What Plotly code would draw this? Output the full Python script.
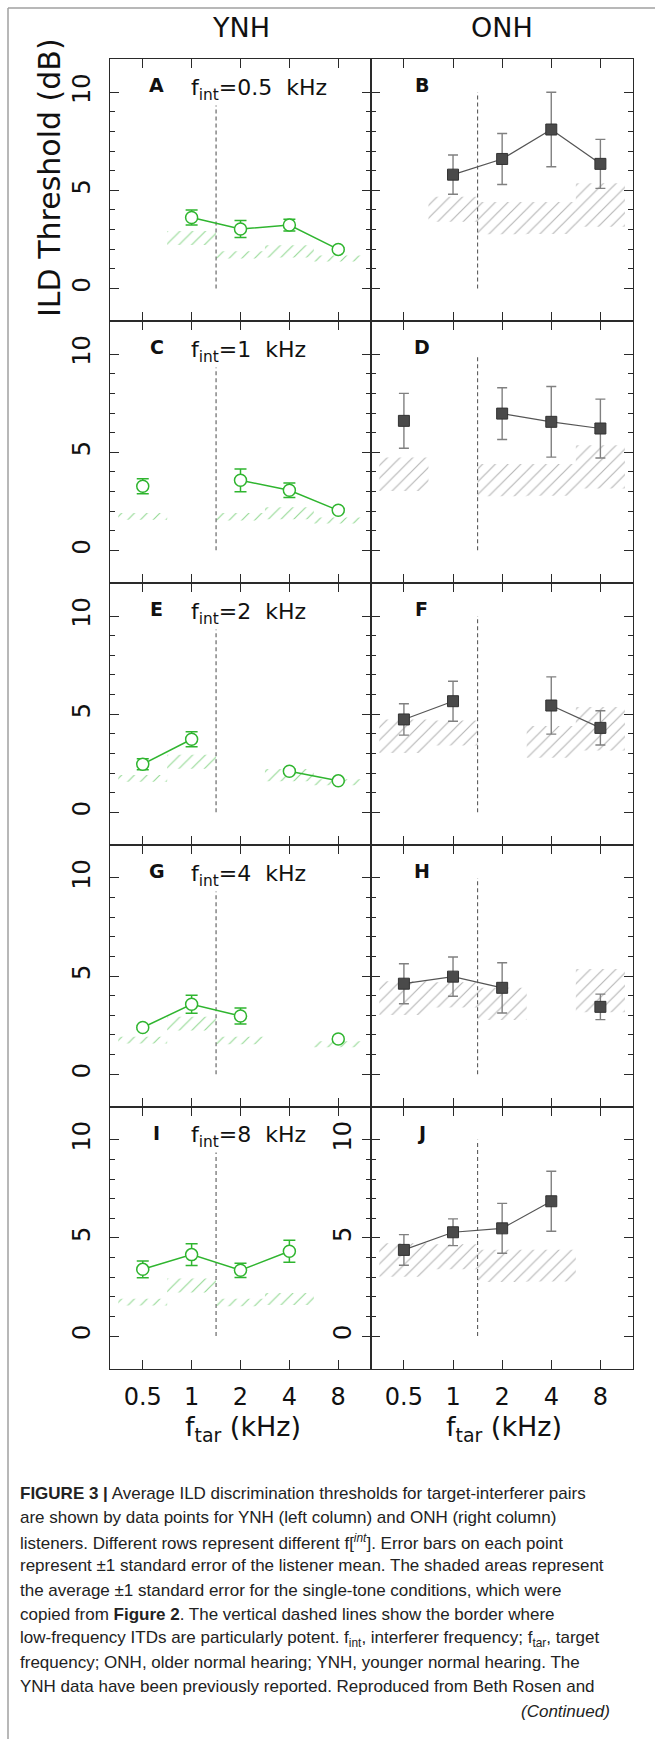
import math
import plotly.graph_objects as go

# ---------------- data ----------------
freqs = [0.5, 1, 2, 4, 8]                 # target frequency (kHz)
freq_labels = ["0.5", "1", "2", "4", "8"]
f_int_values = [0.5, 1, 2, 4, 8]          # interferer frequency per row (kHz)
f_int_labels = ["0.5", "1", "2", "4", "8"]
letters_ynh = ["A", "C", "E", "G", "I"]
letters_onh = ["B", "D", "F", "H", "J"]
column_titles = ["YNH", "ONH"]

# YNH mean thresholds (dB); None where target == interferer
ynh_mean = [
    [None, 3.62, 3.03, 3.23, 1.99],
    [3.27, None, 3.57, 3.06, 2.04],
    [2.45, 3.72, None, 2.09, 1.60],
    [2.38, 3.56, 2.96, None, 1.79],
    [3.40, 4.15, 3.35, 4.32, None],
]
ynh_se = [
    [None, 0.38, 0.43, 0.30, 0.08],
    [0.38, None, 0.58, 0.37, 0.08],
    [0.28, 0.38, None, 0.10, 0.08],
    [0.10, 0.46, 0.41, None, 0.10],
    [0.43, 0.55, 0.36, 0.56, None],
]
# ONH mean thresholds (dB)
onh_mean = [
    [None, 5.80, 6.60, 8.10, 6.35],
    [6.60, None, 6.97, 6.55, 6.21],
    [4.73, 5.66, None, 5.44, 4.30],
    [4.61, 4.97, 4.40, None, 3.43],
    [4.39, 5.29, 5.49, 6.87, None],
]
onh_se = [
    [None, 1.00, 1.30, 1.90, 1.25],
    [1.40, None, 1.32, 1.80, 1.50],
    [0.80, 1.02, None, 1.46, 0.87],
    [1.02, 1.00, 1.28, None, 0.65],
    [0.78, 0.68, 1.27, 1.53, None],
]
# single-tone conditions: mean +/- 1 SE band (dB)
ynh_single_lo = [1.56, 2.22, 1.52, 1.58, 1.37]
ynh_single_hi = [1.90, 2.93, 1.90, 2.20, 1.68]
onh_single_lo = [3.02, 3.40, 2.76, 2.78, 3.15]
onh_single_hi = [4.73, 4.68, 4.40, 4.40, 5.36]

itd_border_khz = math.sqrt(1 * 2)   # border between 1 and 2 kHz
border_y = [0, 10]

caption_lines = [
    "<b>FIGURE 3 |</b> Average ILD discrimination thresholds for target-interferer pairs",
    "are shown by data points for YNH (left column) and ONH (right column)",
    "listeners. Different rows represent different f[<sup><i>int</i></sup>]. Error bars on each point",
    "represent \u00b11 standard error of the listener mean. The shaded areas represent",
    "the average \u00b11 standard error for the single-tone conditions, which were",
    "copied from <b>Figure 2</b>. The vertical dashed lines show the border where",
    "low-frequency ITDs are particularly potent. f<sub>int</sub>, interferer frequency; f<sub>tar</sub>, target",
    "frequency; ONH, older normal hearing; YNH, younger normal hearing. The",
    "YNH data have been previously reported. Reproduced from Beth Rosen and",
]
caption_continued = "<i>(Continued)</i>"

# ---------------- styling ----------------
W, H = 655, 1739
GREEN = "#2fb52f"
SQ_COLOR = "#4a4a4a"
ONH_ERR = "#808080"
ONH_HATCH = "#6e6e6e"
AXC = "#2a2a2a"
PLOT_FONT = "DejaVu Sans"
CAP_FONT = "Liberation Sans"

col_px = [(110.0, 371.0), (371.0, 633.3)]
row_top = 59.3
row_h = 261.9


def xp(px):
    return px / W


def yp(py):
    return 1 - py / H


fig = go.Figure()
half_oct = math.sqrt(2)
lg2 = math.log10(2)
x_range = [math.log10(freqs[0]) - 0.67 * lg2, math.log10(freqs[-1]) + 0.67 * lg2]

annotations = []
for r in range(5):
    for c in range(2):
        idx = r * 2 + c + 1
        xs = "x" if idx == 1 else f"x{idx}"
        ys = "y" if idx == 1 else f"y{idx}"
        top = row_top + r * row_h
        bot = top + row_h
        x0, x1 = col_px[c]

        fig.layout[("xaxis" if idx == 1 else f"xaxis{idx}")] = dict(
            domain=[xp(x0), xp(x1)], anchor=ys, type="log", range=x_range,
            tickmode="array", tickvals=freqs, ticktext=freq_labels,
            ticks="inside", ticklen=9, tickwidth=1.2, tickcolor=AXC,
            showline=True, linewidth=1.1, linecolor=AXC, mirror="allticks",
            showgrid=False, zeroline=False, showticklabels=(r == 4),
            tickfont=dict(family=PLOT_FONT, size=24, color="#111"),
            ticklabelstandoff=6,
        )
        fig.layout[("yaxis" if idx == 1 else f"yaxis{idx}")] = dict(
            domain=[yp(bot), yp(top)], anchor=xs, range=[-1.67, 11.68],
            tickmode="array", tickvals=[0, 5, 10], ticktext=["0", "5", "10"],
            ticks="inside", ticklen=9, tickwidth=1.2, tickcolor=AXC,
            minor=dict(tickmode="array", tickvals=[1, 2, 3, 4, 6, 7, 8, 9],
                       ticks="inside", ticklen=5, tickwidth=1.2, tickcolor=AXC),
            showline=True, linewidth=1.1, linecolor=AXC, mirror="allticks",
            showgrid=False, zeroline=False,
            showticklabels=(c == 0 or (r == 4 and c == 1)),
            tickangle=-90, tickfont=dict(family=PLOT_FONT, size=24, color="#111"),
            ticklabelstandoff=9,
        )

        fint = f_int_values[r]
        if c == 0:
            lo, hi, hcol = ynh_single_lo, ynh_single_hi, GREEN
            mean, se = ynh_mean[r], ynh_se[r]
        else:
            lo, hi, hcol = onh_single_lo, onh_single_hi, ONH_HATCH
            mean, se = onh_mean[r], onh_se[r]

        # hatched single-tone bands
        for i, f in enumerate(freqs):
            if f == fint:
                continue
            fig.add_trace(go.Scatter(
                x=[f / half_oct, f * half_oct, f * half_oct, f / half_oct, f / half_oct],
                y=[lo[i], lo[i], hi[i], hi[i], lo[i]],
                mode="lines", line=dict(width=0, color="rgba(0,0,0,0)"),
                fill="toself", fillcolor="rgba(0,0,0,0)",
                fillpattern=dict(shape="/", fgcolor=hcol, bgcolor="rgba(0,0,0,0)",
                                 size=9, solidity=0.13),
                xaxis=xs, yaxis=ys, hoverinfo="skip", showlegend=False,
            ))

        # dashed border line
        fig.add_trace(go.Scatter(
            x=[itd_border_khz, itd_border_khz], y=border_y, mode="lines",
            line=dict(color="#5a5a5a", width=1.1, dash="4px,3px"),
            xaxis=xs, yaxis=ys, hoverinfo="skip", showlegend=False,
        ))

        err = [e if e is not None else 0 for e in se]
        if c == 0:
            fig.add_trace(go.Scatter(
                x=freqs, y=mean, mode="lines+markers",
                line=dict(color=GREEN, width=1.5),
                marker=dict(symbol="circle", size=12, color="white",
                            line=dict(color=GREEN, width=1.5)),
                error_y=dict(type="data", array=err, visible=True, color=GREEN,
                             thickness=1.5, width=6),
                xaxis=xs, yaxis=ys, showlegend=False,
            ))
        else:
            fig.add_trace(go.Scatter(
                x=freqs, y=mean, mode="lines+markers",
                line=dict(color="#555555", width=1.2),
                marker=dict(symbol="square", size=11, color=SQ_COLOR,
                            line=dict(color="#333333", width=1)),
                error_y=dict(type="data", array=err, visible=True, color=ONH_ERR,
                             thickness=1.4, width=5),
                xaxis=xs, yaxis=ys, showlegend=False,
            ))

        # panel letters
        lx = 156.7 if c == 0 else 421.7
        annotations.append(dict(
            x=xp(lx), y=yp(top + 26), xref="paper", yref="paper",
            text=f"<b>{letters_ynh[r] if c == 0 else letters_onh[r]}</b>",
            showarrow=False, xanchor="center", yanchor="middle",
            font=dict(family=PLOT_FONT, size=19, color="#111"),
        ))
        if c == 0:
            annotations.append(dict(
                x=xp(189), y=yp(top + 30), xref="paper", yref="paper",
                text=f"f<sub>int</sub>=" + f_int_labels[r] + "\u00a0 kHz",
                showarrow=False, xanchor="left", yanchor="middle",
                bgcolor="white", borderpad=1,
                font=dict(family=PLOT_FONT, size=22, color="#111"),
            ))

# column titles
for c in range(2):
    x0, x1 = col_px[c]
    annotations.append(dict(
        x=xp((x0 + x1) / 2), y=yp(27), xref="paper", yref="paper",
        text=column_titles[c], showarrow=False, xanchor="center", yanchor="middle",
        font=dict(family=PLOT_FONT, size=27, color="#111"),
    ))

# y axis title (panel A)
annotations.append(dict(
    x=xp(50), y=yp(178), xref="paper", yref="paper",
    text="ILD Threshold (dB)", textangle=-90, showarrow=False,
    xanchor="center", yanchor="middle",
    font=dict(family=PLOT_FONT, size=30, color="#111"),
))

# x axis titles
for c in range(2):
    x0, x1 = col_px[c]
    annotations.append(dict(
        x=xp((x0 + x1) / 2 + 2), y=yp(1428), xref="paper", yref="paper",
        text="f<sub>tar</sub> (kHz)", showarrow=False,
        xanchor="center", yanchor="middle",
        font=dict(family=PLOT_FONT, size=27, color="#111"),
    ))

# caption
for k, line in enumerate(caption_lines):
    annotations.append(dict(
        x=xp(18), y=yp(1493.3 + k * 24.2), xref="paper", yref="paper",
        text=line, showarrow=False, xanchor="left", yanchor="middle",
        font=dict(family=CAP_FONT, size=17, color="#222"),
    ))
annotations.append(dict(
    x=xp(612), y=yp(1493.3 + 9 * 24.2), xref="paper", yref="paper",
    text=caption_continued, showarrow=False, xanchor="right", yanchor="middle",
    font=dict(family=CAP_FONT, size=17, color="#222"),
))

shapes = [
    dict(type="line", xref="paper", yref="paper", x0=xp(8), x1=1, y0=yp(8), y1=yp(8),
         line=dict(color="#a0a0a0", width=1.5)),
    dict(type="line", xref="paper", yref="paper", x0=xp(8), x1=xp(8), y0=yp(8), y1=0,
         line=dict(color="#a0a0a0", width=1.5)),
]

fig.update_layout(
    width=W, height=H, margin=dict(l=0, r=0, t=0, b=0),
    paper_bgcolor="white", plot_bgcolor="white",
    annotations=annotations, shapes=shapes, showlegend=False,
)

fig.write_html("out.html")
